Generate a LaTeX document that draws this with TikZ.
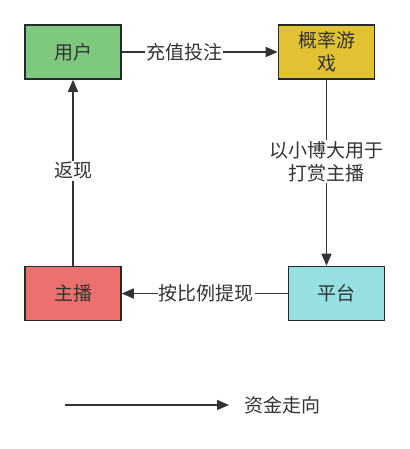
\documentclass[tikz,border=0pt]{standalone}
\usepackage{fontspec}
\setmainfont{Noto Sans CJK SC}
\usetikzlibrary{arrows.meta,positioning}
\definecolor{fgreen}{RGB}{126,200,126}
\definecolor{fyellow}{RGB}{226,194,50}
\definecolor{fcyan}{RGB}{150,224,226}
\definecolor{fred}{RGB}{236,113,110}
\definecolor{boxline}{RGB}{36,41,46}
\definecolor{txtgray}{RGB}{51,51,51}

\begin{document}
\begin{tikzpicture}[x=1pt, y=-1pt,
  every node/.style={font=\fontsize{19}{23}\selectfont, text=txtgray},
  box/.style={draw=boxline, line width=1.6pt, minimum width=96pt, minimum height=54pt, align=center, inner sep=0pt},
  flow/.style={draw=txtgray, line width=1.6pt, -{Triangle[length=12pt,width=10pt]}},
  lab/.style={fill=white, inner xsep=1pt, inner ysep=1pt, align=center}
]
  \useasboundingbox (0,0) rectangle (409,449);

  % boxes
  \node[box, fill=fgreen] (user) at (73,52) {用户};
  \node[box, fill=fyellow] (game) at (326.5,52) {概率游\\戏};
  \node[box, fill=fcyan] (platform) at (336.5,293.5) {平台};
  \node[box, fill=fred] (anchor) at (73,293.5) {主播};

  % money flow
  \draw[flow] (user) -- node[lab, pos=0.4] {充值投注} (game);
  \draw[flow] (game.south) -- node[lab, pos=0.44] {以小博大用于\\打赏主播} (game.south |- platform.north);
  \draw[flow] (platform) -- node[lab, pos=0.49] {按比例提现} (anchor);
  \draw[flow] (anchor) -- node[lab, pos=0.51] {返现} (user);

  % legend
  \coordinate (legA) at (65,405);
  \coordinate (legB) at (229,405);
  \draw[flow] (legA) -- (legB);
  \node[anchor=west] (legtext) at (241,405) {资金走向};
\end{tikzpicture}
\end{document}
